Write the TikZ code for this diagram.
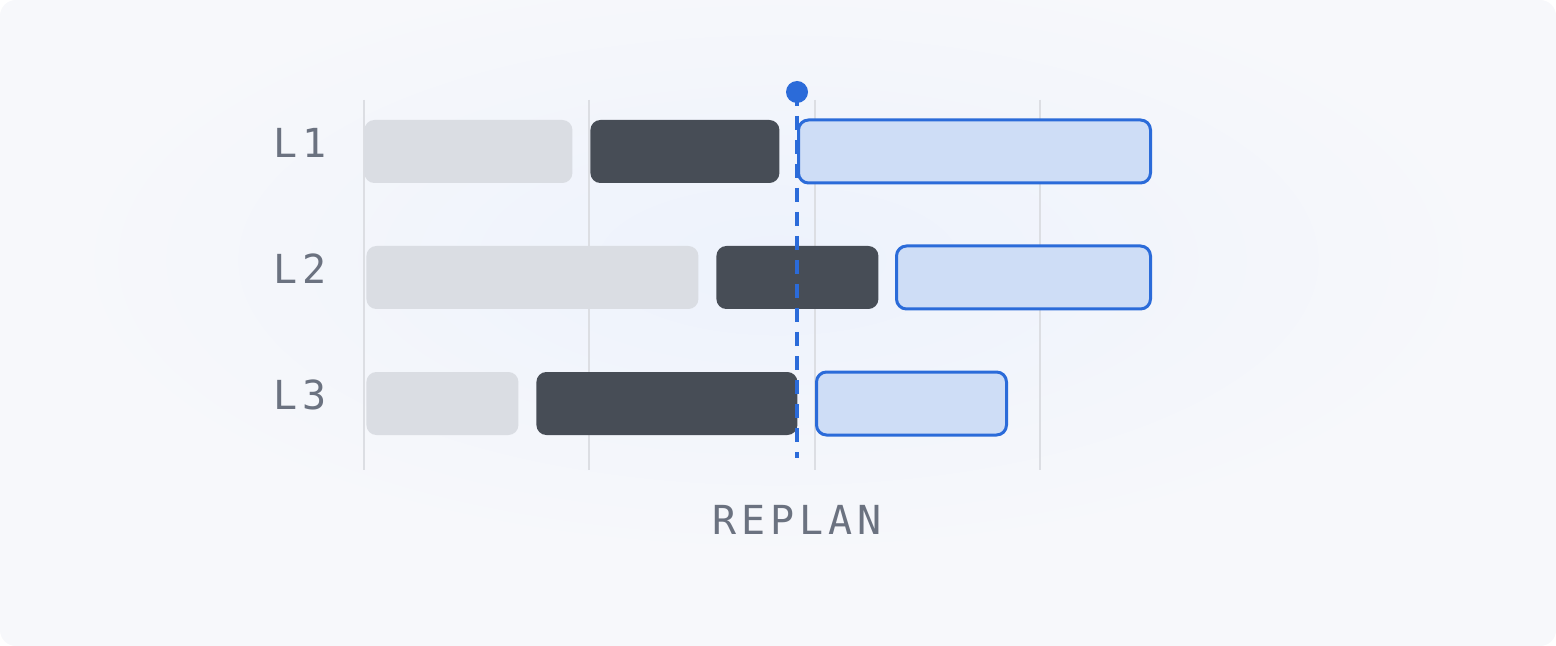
\documentclass[tikz,border=0pt]{standalone}
\usepackage{fontspec}
\setmonofont[LetterSpace=12]{DejaVu Sans Mono}
\usetikzlibrary{positioning}
\definecolor{bgcol}{HTML}{F7F8FB}
\definecolor{glowcol}{HTML}{EDF2FC}
\definecolor{gridcol}{HTML}{DCDEE3}
\definecolor{pastcol}{HTML}{DADDE3}
\definecolor{nowcol}{HTML}{474D56}
\definecolor{plancol}{HTML}{CEDDF6}
\definecolor{bluecol}{HTML}{2B6BD9}
\definecolor{labcol}{HTML}{6B7280}
\begin{document}
\begin{tikzpicture}[
    x=0.5pt, y=-0.5pt,
    bar/.style={rectangle, rounded corners=5pt, inner sep=0pt, minimum height=31.5pt, anchor=west},
    past/.style={bar, fill=pastcol},
    now/.style={bar, fill=nowcol},
    plan/.style={bar, fill=plancol, draw=bluecol, line width=1.5pt},
    gridline/.style={draw=gridcol, line width=1.2pt},
    lane/.style={text=labcol, font=\ttfamily\fontsize{20}{20}\selectfont}
]
% background
\fill[bgcol, rounded corners=8pt] (0,0) rectangle (1556,646);
\useasboundingbox (0,0) rectangle (1556,646);
\begin{scope}
  \clip (0,0) rectangle (1556,646);
  \shade[inner color=glowcol, outer color=bgcol] (778,260) ellipse [x radius=720, y radius=300];
\end{scope}

% grid
\foreach \gx in {364,589,815,1040}
  \draw[gridline] (\gx,100) -- (\gx,470);

% lane labels
\node[lane] (l1) at (300,143) {L1};
\node[lane] (l2) at (300,269) {L2};
\node[lane] (l3) at (300,395) {L3};

% row 1
\node[past, minimum width=104pt] (p1) at (364,151.5) {};
\node[now, minimum width=94.5pt] (n1) at (590,151.5) {};
\node[plan, minimum width=176pt] (f1) at (797,151.5) {};
% row 2
\node[past, minimum width=166pt] (p2) at (366,277.5) {};
\node[now, minimum width=81pt] (n2) at (716,277.5) {};
\node[plan, minimum width=127pt] (f2) at (895,277.5) {};
% row 3
\node[past, minimum width=76pt] (p3) at (366,403.5) {};
\node[now, minimum width=130.5pt] (n3) at (536,403.5) {};
\node[plan, minimum width=95pt] (f3) at (815,403.5) {};

% replan marker
\coordinate (top) at (797,92);
\coordinate (bot) at (797,458);
\draw[bluecol, line width=2pt, dash pattern=on 7pt off 5pt] (top) -- (bot);
\fill[bluecol] (top) circle (5.5pt);

\node[lane] (replan) at (797,520) {REPLAN};
\end{tikzpicture}
\end{document}
